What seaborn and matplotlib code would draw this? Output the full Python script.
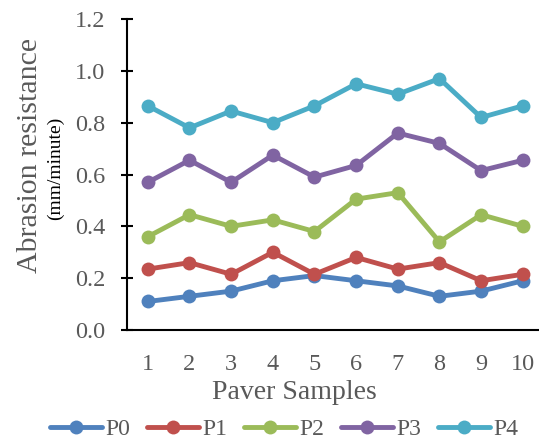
import pandas as pd
import matplotlib
matplotlib.use("Agg")
import matplotlib.pyplot as plt
import seaborn as sns

samples = list(range(1, 11))
p0 = [0.11, 0.13, 0.15, 0.19, 0.21, 0.19, 0.17, 0.13, 0.15, 0.19]
p1 = [0.235, 0.26, 0.215, 0.30, 0.215, 0.28, 0.235, 0.26, 0.19, 0.215]
p2 = [0.36, 0.445, 0.40, 0.425, 0.38, 0.505, 0.53, 0.34, 0.445, 0.40]
p3 = [0.57, 0.655, 0.57, 0.675, 0.59, 0.635, 0.76, 0.72, 0.615, 0.655]
p4 = [0.865, 0.78, 0.845, 0.80, 0.865, 0.95, 0.91, 0.97, 0.82, 0.865]
series_names = ["P0", "P1", "P2", "P3", "P4"]
colors = ["#4F81BD", "#C0504D", "#9BBB59", "#8064A2", "#4BACC6"]
y_ticks = [0.0, 0.2, 0.4, 0.6, 0.8, 1.0, 1.2]

rows = []
for name, vals in zip(series_names, [p0, p1, p2, p3, p4]):
    for s, v in zip(samples, vals):
        rows.append({"Sample": s, "Value": v, "Series": name})
df = pd.DataFrame(rows)

sns.set_style("white")
plt.rcParams['font.family'] = ['Liberation Serif', 'DejaVu Serif']
text_gray = "#595959"

fig = plt.figure(figsize=(5.39, 4.42), dpi=100)
ax = fig.add_axes([0.2356, 0.2534, 0.773, 0.7036])

sns.lineplot(data=df, x="Sample", y="Value", hue="Series", palette=colors,
             marker="o", markersize=10, markeredgewidth=0, linewidth=3.5,
             ax=ax)

ax.set_xlim(0.5, 10.5)
ax.set_ylim(0, 1.2)
ax.set_yticks(y_ticks)
ax.set_yticklabels([f"{t:.1f}" for t in y_ticks])
ax.set_xticks(samples)
ax.set_xticklabels([str(s) for s in samples])
ax.set_xlabel("")
ax.set_ylabel("")

for side in ["top", "right"]:
    ax.spines[side].set_visible(False)
for side in ["left", "bottom"]:
    ax.spines[side].set_color("black")
    ax.spines[side].set_linewidth(1.5)
    ax.spines[side].set_zorder(0)

ax.tick_params(axis="y", direction="inout", length=9, width=1.5, color="black",
               labelsize=17.5, labelcolor=text_gray, pad=11, left=True)
ax.tick_params(axis="x", length=0, labelsize=17.5, labelcolor=text_gray, pad=17)

fig.text(0.056, 0.649, "Abrasion resistance", rotation=90, ha="center", va="center",
         fontsize=21.5, color=text_gray)
fig.text(0.103, 0.62, "(mm/minute)", rotation=90, ha="center", va="center",
         fontsize=14, color="black")
fig.text(0.547, 0.111, "Paver Samples", ha="center", va="center",
         fontsize=20, color=text_gray)

ax.legend(loc="center", bbox_to_anchor=(0.527, 0.028), bbox_transform=fig.transFigure,
          ncol=5, frameon=False, fontsize=17, handlelength=2.2, handletextpad=0.15,
          columnspacing=0.7, labelcolor=text_gray)

fig.savefig("out.png", dpi=100)
